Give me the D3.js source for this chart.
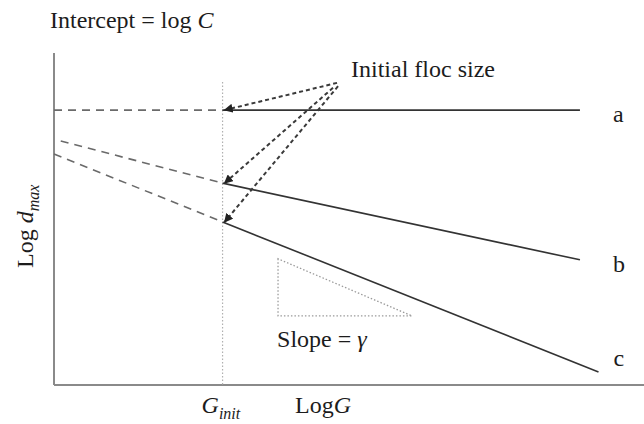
<!DOCTYPE html>
<html>
<head>
<meta charset="utf-8">
<script src="https://cdn.jsdelivr.net/npm/d3@7"></script>
<style>
  html, body { margin: 0; padding: 0; background: #fff; }
  svg text { font-family: "Liberation Serif", "DejaVu Serif", serif; fill: #1c1c1c; }
</style>
</head>
<body>
<svg id="chart" width="644" height="424"></svg>
<script>
// Schematic: log of maximum floc size versus log of shear rate G.
// Units are arbitrary; G_init sits at x = 1.
const xDomain = [0, 3.5];
const yDomain = [0, 10];
const gInit = 1;
const guideTop = 9.13;

const series    = ["a", "b", "c"];
const yAtInit   = [8.28, 6.08, 4.91];   // log d_max where each line starts (G = G_init)
const xEnd      = [3.12, 3.12, 3.23];
const yEnd      = [8.28, 3.77, 0.39];
const xExtStart = [0.00, 0.04, 0.00];   // back-extrapolated dashed lines toward the intercept
const yExtStart = [8.28, 7.35, 6.96];

// Arrow tails near the "Initial floc size" note
const arrowTailX = [1.679, 1.655, 1.685];
const arrowTailY = [9.10, 8.95, 9.00];

// Slope indicator triangle
const triX = [1.329, 1.329, 2.124];
const triY = [3.80, 2.08, 2.08];

const FS = 24;     // main label size
const SUB = 16;    // subscript size

const svg = d3.select("#chart");
const x = d3.scaleLinear().domain(xDomain).range([54, 644]);
const y = d3.scaleLinear().domain(yDomain).range([385, 53]);

// Axes (plain lines, no ticks)
svg.append("line")
  .attr("x1", x(0)).attr("x2", x(0)).attr("y1", y(yDomain[1])).attr("y2", y(0))
  .attr("stroke", "#8a8a8a").attr("stroke-width", 2);
svg.append("line")
  .attr("x1", x(0)).attr("x2", x(xDomain[1])).attr("y1", y(0)).attr("y2", y(0))
  .attr("stroke", "#8a8a8a").attr("stroke-width", 2);

// Vertical guide at G_init
svg.append("line")
  .attr("x1", x(gInit)).attr("x2", x(gInit)).attr("y1", y(guideTop)).attr("y2", y(0))
  .attr("stroke", "#b0b0b0").attr("stroke-width", 1.2).attr("stroke-dasharray", "1.5,2");

// Dashed back-extrapolations
series.forEach((s, i) => {
  svg.append("line")
    .attr("x1", x(xExtStart[i])).attr("y1", y(yExtStart[i]))
    .attr("x2", x(gInit)).attr("y2", y(yAtInit[i]))
    .attr("stroke", "#6a6a6a").attr("stroke-width", 1.6).attr("stroke-dasharray", "8,6");
});

// Solid lines a, b, c
series.forEach((s, i) => {
  svg.append("line")
    .attr("x1", x(gInit)).attr("y1", y(yAtInit[i]))
    .attr("x2", x(xEnd[i])).attr("y2", y(yEnd[i]))
    .attr("stroke", "#333").attr("stroke-width", 1.6);
  svg.append("text")
    .attr("x", x(xEnd[i]) + (i === 2 ? 15 : 33)).attr("y", y(yEnd[i]) + (i === 2 ? -6 : 12))
    .attr("font-size", FS)
    .text(s);
});

// Slope triangle
svg.append("path")
  .attr("d", d3.line().x((d, i) => x(triX[i])).y((d, i) => y(triY[i])).curve(d3.curveLinearClosed)(triX))
  .attr("fill", "none").attr("stroke", "#9a9a9a").attr("stroke-width", 1.3)
  .attr("stroke-dasharray", "1.5,2");

// Arrows pointing at initial floc sizes
svg.append("defs").append("marker")
  .attr("id", "head").attr("viewBox", "0 0 10 10").attr("refX", 9).attr("refY", 5)
  .attr("markerWidth", 9).attr("markerHeight", 9).attr("markerUnits", "userSpaceOnUse")
  .attr("orient", "auto")
  .append("path").attr("d", "M0,0 L10,5 L0,10 Z").attr("fill", "#222");

series.forEach((s, i) => {
  svg.append("line")
    .attr("x1", x(arrowTailX[i])).attr("y1", y(arrowTailY[i]))
    .attr("x2", x(gInit) + 2).attr("y2", y(yAtInit[i]))
    .attr("stroke", "#3a3a3a").attr("stroke-width", 2).attr("stroke-dasharray", "4,3")
    .attr("marker-end", "url(#head)");
});

// Annotations
svg.append("text").attr("x", 50).attr("y", 28).attr("font-size", FS)
  .call(t => {
    t.append("tspan").text("Intercept = log ");
    t.append("tspan").attr("font-style", "italic").text("C");
  });

svg.append("text").attr("x", 351).attr("y", 77).attr("font-size", FS)
  .text("Initial floc size");

svg.append("text").attr("x", x(triX[0]) - 1).attr("y", 347).attr("font-size", FS)
  .call(t => {
    t.append("tspan").text("Slope = ");
    t.append("tspan").attr("font-style", "italic").text("γ");
  });

// Axis labels
svg.append("text").attr("x", x(gInit) - 21).attr("y", 413).attr("font-size", FS)
  .call(t => {
    t.append("tspan").attr("font-style", "italic").text("G");
    t.append("tspan").attr("font-style", "italic").attr("font-size", SUB).attr("dy", 6).text("init");
  });

svg.append("text").attr("x", 295).attr("y", 413).attr("font-size", FS)
  .call(t => {
    t.append("tspan").text("Log");
    t.append("tspan").attr("font-style", "italic").text("G");
  });

svg.append("text")
  .attr("transform", "translate(33,268) rotate(-90)")
  .attr("font-size", FS)
  .call(t => {
    t.append("tspan").text("Log ");
    t.append("tspan").attr("font-style", "italic").text("d");
    t.append("tspan").attr("font-style", "italic").attr("font-size", SUB).attr("dy", 6).text("max");
  });
</script>
</body>
</html>
